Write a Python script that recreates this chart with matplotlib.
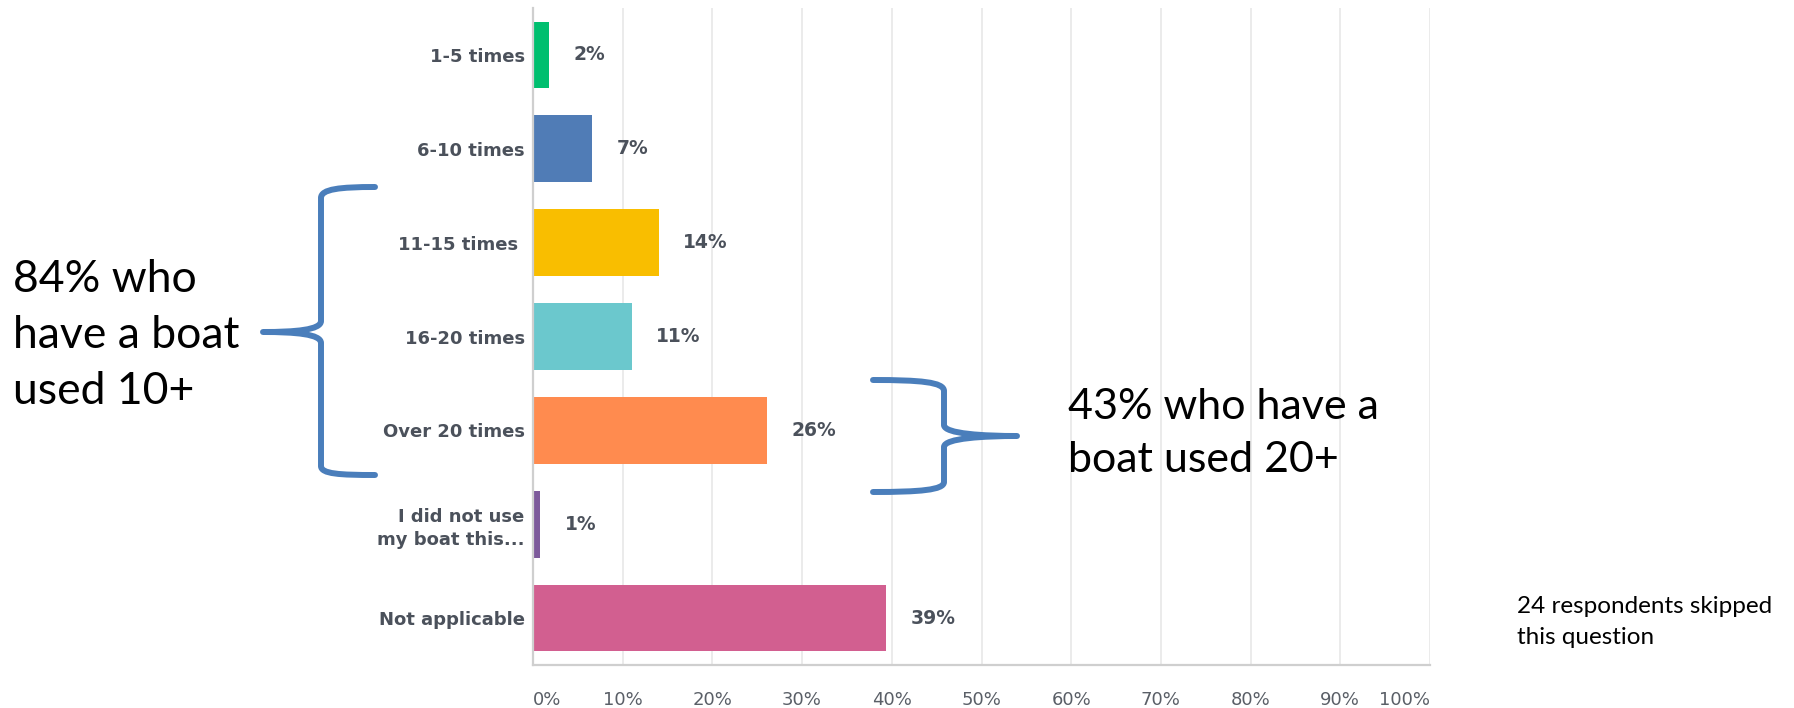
import matplotlib
matplotlib.use("Agg")
import matplotlib.pyplot as plt
from matplotlib.path import Path
from matplotlib.patches import PathPatch

categories = ["1-5 times", "6-10 times", "11-15 times ", "16-20 times", "Over 20 times",
              "I did not use\nmy boat this...", "Not applicable"]
values = [1.8, 6.6, 14.0, 11.0, 26.1, 0.8, 39.4]
value_labels = ["2%", "7%", "14%", "11%", "26%", "1%", "39%"]
bar_colors = ["#00bf6f", "#507cb6", "#f9be00", "#6bc8cd", "#ff8b4f", "#7d5a9b", "#d25f90"]
x_ticks = [0, 10, 20, 30, 40, 50, 60, 70, 80, 90, 100]
x_tick_labels = ["0%", "10%", "20%", "30%", "40%", "50%", "60%", "70%", "80%", "90%", "100%"]
note_left = "84% who\nhave a boat\nused 10+"
note_right = "43% who have a\nboat used 20+"
note_skipped = "24 respondents skipped\nthis question"

W, H = 1794, 708
fig = plt.figure(figsize=(W / 100, H / 100), dpi=100)
fig.patch.set_facecolor("white")

def fx(px):
    return px / W

def fy(py):
    return 1 - py / H

ax = fig.add_axes([fx(533), fy(665), fx(1430) - fx(533), fy(8) - fy(665)])
ys = list(range(len(categories)))
ax.barh(ys, values, height=0.71, color=bar_colors, zorder=3)
ax.set_xlim(0, 100)
ax.set_ylim(len(categories) - 0.5, -0.5)

ax.set_xticks(x_ticks)
ax.set_xticklabels(x_tick_labels, fontsize=13, color="#5a5f67")
ax.tick_params(axis="x", length=0, pad=19)
tl = ax.get_xticklabels()
tl[0].set_ha("left")
tl[-1].set_ha("right")

ax.set_yticks(ys)
ax.set_yticklabels(categories, fontsize=13, fontweight="bold", color="#4b515b",
                   linespacing=1.35)
ax.tick_params(axis="y", length=0, pad=6)

ax.grid(axis="x", color="#e8e8e8", linewidth=1.2, zorder=0)
ax.grid(axis="y", visible=False)
for s in ["top", "right"]:
    ax.spines[s].set_visible(False)
ax.spines["left"].set_color("#cfcfcf")
ax.spines["left"].set_linewidth(1.6)
ax.spines["bottom"].set_color("#cfcfcf")
ax.spines["bottom"].set_linewidth(1.6)
ax.spines["left"].set_zorder(4)

for y, v, lab in zip(ys, values, value_labels):
    ax.annotate(lab, xy=(v, y), xytext=(17.5, 0), textcoords="offset points",
                ha="left", va="center", fontsize=13.5, fontweight="bold", color="#4b515b")

brace_color = "#4a7ebb"

def brace(points_codes):
    verts = [(fx(x), fy(y)) for (x, y), _ in points_codes]
    codes = [c for _, c in points_codes]
    p = PathPatch(Path(verts, codes), transform=fig.transFigure, facecolor="none",
                  edgecolor=brace_color, linewidth=4.3, capstyle="round", joinstyle="round")
    fig.add_artist(p)

M, L, C = Path.MOVETO, Path.LINETO, Path.CURVE4
brace([((375, 187), M),
       ((340, 187), C), ((321, 189), C), ((321, 198), C),
       ((321, 321), L),
       ((321, 330), C), ((295, 332), C), ((263, 332), C),
       ((295, 332), C), ((321, 334), C), ((321, 343), C),
       ((321, 466), L),
       ((321, 474), C), ((340, 475), C), ((375, 475), C)])
brace([((873, 380), M),
       ((920, 380), C), ((944, 382), C), ((944, 391), C),
       ((944, 425), L),
       ((944, 434), C), ((985, 436), C), ((1017, 436), C),
       ((985, 436), C), ((944, 438), C), ((944, 447), C),
       ((944, 482), L),
       ((944, 490), C), ((920, 492), C), ((873, 492), C)])

# va='baseline' aligns the last line's baseline
fig.text(fx(13), fy(403.5), note_left, fontsize=32, family="Lato", color="black",
         ha="left", va="baseline", linespacing=1.45)
fig.text(fx(1068), fy(472), note_right, fontsize=31, family="Lato", color="black",
         ha="left", va="baseline", linespacing=1.49)
fig.text(fx(1517), fy(643.5), note_skipped, fontsize=17.5, family="Lato", color="black",
         ha="left", va="baseline", linespacing=1.57)

fig.savefig("out.png", dpi=100, facecolor="white")
